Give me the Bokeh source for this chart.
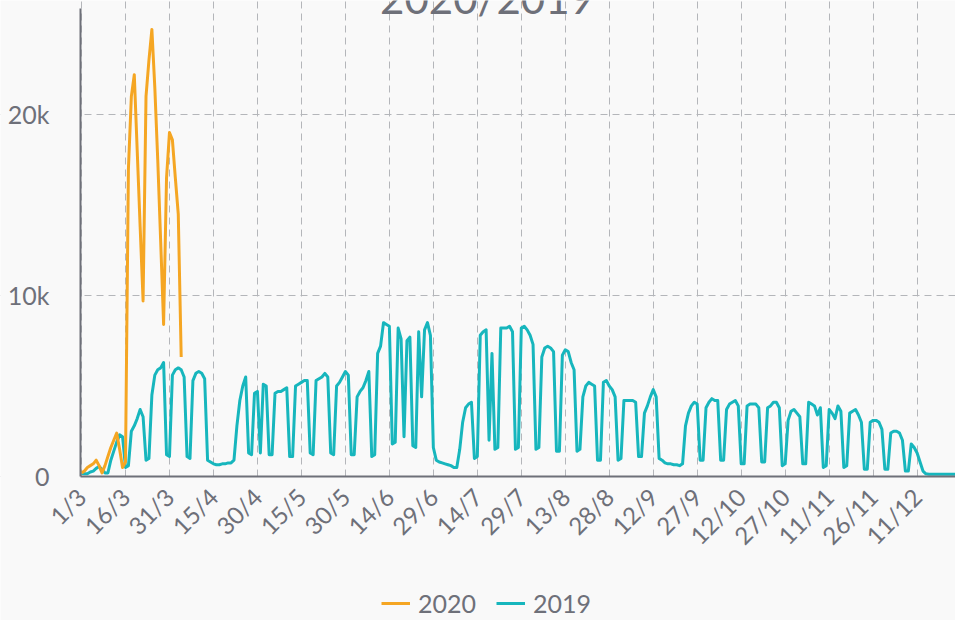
import math
from bokeh.plotting import figure
from bokeh.models import FixedTicker, Range1d, Legend, LegendItem, Label, BoxAnnotation
from bokeh.embed import file_html
from bokeh.resources import INLINE

# ---- data (values in thousands, one value per day starting 1 March) ----
title_text = "2020/2019"
series_names = ["2020", "2019"]

v2020 = [0.2, 0.3, 0.5, 0.6, 0.7, 0.9, 0.6, 0.2, 0.6, 1.1, 1.6, 2.0, 2.4, 1.5,
         0.5, 0.8, 17.0, 21.0, 22.2, 18.0, 13.8, 9.7, 21.0, 23.0, 24.7, 21.5,
         17.5, 13.0, 8.4, 16.5, 19.0, 18.6, 16.5, 14.5, 6.6]

v2019 = [0.17, 0.15, 0.15,
         0.25, 0.3, 0.45, 0.55, 0.4, 0.2, 0.2,
         0.9, 1.4, 1.9, 2.3, 2.2, 0.5, 0.6,
         2.5, 2.8, 3.2, 3.7, 3.3, 0.9, 1.0,
         4.5, 5.6, 5.9, 6.0, 6.3, 1.2, 1.1,
         5.6, 5.9, 6.0, 5.9, 5.5, 1.1, 1.0,
         5.3, 5.7, 5.8, 5.7, 5.4, 0.9, 0.8,
         0.7, 0.65, 0.65, 0.7, 0.7, 0.75, 0.75,
         0.9, 2.8, 4.2, 5.0, 5.5, 1.3, 1.2,
         4.6, 4.7, 1.3, 5.1, 5.0, 1.2, 1.2,
         4.6, 4.7, 4.7, 4.8, 4.9, 1.1, 1.1,
         5.0, 5.1, 5.2, 5.3, 5.3, 1.3, 1.2,
         5.3, 5.4, 5.5, 5.7, 5.5, 1.3, 1.2,
         5.0, 5.2, 5.5, 5.8, 5.6, 1.2, 1.2,
         4.4, 4.7, 4.9, 5.3, 5.8, 1.1, 1.2,
         6.8, 7.2, 8.5, 8.4, 8.3, 1.8, 1.9,
         8.2, 7.6, 2.2, 7.5, 7.7, 1.7, 1.6,
         8.0, 4.4, 8.1, 8.5, 7.8, 1.6, 0.9,
         0.8, 0.75, 0.7, 0.65, 0.6, 0.5, 0.5,
         1.5, 3.0, 3.8, 4.0, 4.1, 1.0, 1.1,
         7.8, 8.0, 8.1, 2.0, 6.8, 1.5, 1.6,
         8.2, 8.2, 8.2, 8.3, 8.0, 1.5, 1.6,
         8.2, 8.3, 8.1, 7.8, 7.3, 1.5, 1.6,
         6.6, 7.1, 7.2, 7.1, 6.9, 1.4, 1.4,
         6.7, 7.0, 6.9, 6.3, 5.9, 1.4, 1.5,
         4.4, 5.0, 5.2, 5.1, 5.0, 0.9, 0.9,
         5.2, 5.3, 5.0, 4.8, 4.4, 0.9, 1.0,
         4.2, 4.2, 4.2, 4.2, 4.1, 1.1, 1.1,
         3.5, 3.9, 4.4, 4.8, 4.4, 1.0, 0.9,
         0.75, 0.7, 0.7, 0.65, 0.65, 0.6, 0.7,
         2.8, 3.5, 3.9, 4.1, 4.0, 0.9, 0.9,
         3.8, 4.1, 4.3, 4.2, 4.2, 0.9, 0.9,
         3.7, 4.0, 4.1, 4.2, 3.9, 0.7, 0.7,
         3.9, 4.0, 4.0, 4.0, 3.8, 0.8, 0.8,
         3.8, 3.9, 4.1, 4.1, 3.8, 0.6, 0.7,
         3.1, 3.6, 3.7, 3.5, 3.3, 0.7, 0.7,
         4.1, 4.0, 3.9, 3.4, 3.8, 0.5, 0.6,
         3.7, 3.5, 3.2, 3.9, 3.6, 0.5, 0.6,
         3.5, 3.6, 3.7, 3.4, 3.0, 0.4, 0.4,
         3.0, 3.1, 3.1, 3.0, 2.6, 0.4, 0.4,
         2.4, 2.5, 2.5, 2.4, 2.0, 0.3, 0.3,
         1.8, 1.6, 1.3, 0.8, 0.3, 0.15, 0.12,
         0.12, 0.12, 0.12, 0.12, 0.12, 0.12, 0.12,
         0.12, 0.12, 0.12, 0.12, 0.12, 0.12, 0.12,
         0.12, 0.12]

tick_days = [0, 15, 30, 45, 60, 75, 90, 105, 120, 135, 150, 165, 180, 195,
             210, 225, 240, 255, 270, 285]
tick_labels = ["1/3", "16/3", "31/3", "15/4", "30/4", "15/5", "30/5", "14/6",
               "29/6", "14/7", "29/7", "13/8", "28/8", "12/9", "27/9", "12/10",
               "27/10", "11/11", "26/11", "11/12"]

y_ticks = [0, 10000, 20000]
y_tick_labels = ["0", "10k", "20k"]

# ---- styling ----
FONT = "Lato"
TXT = "#6e7079"
BG = "#f9f9f9"
C2020 = "#f5a623"
C2019 = "#17b6bd"

days2020 = list(range(len(v2020)))
days2019 = list(range(len(v2019)))
y2020 = [v * 1000 for v in v2020]
y2019 = [v * 1000 for v in v2019]

# the frame fills the whole canvas; axes are drawn at fixed positions inside it
X_LEFT, X_AXIS, X_RIGHT = -27.63, -0.34, 298.09
Y_BOTTOM, Y_AXIS_TOP, Y_TOP = -7956, 25856, 26298

p = figure(width=955, height=620, output_backend="svg", toolbar_location=None,
           x_range=Range1d(X_LEFT, X_RIGHT), y_range=Range1d(Y_BOTTOM, Y_TOP),
           min_border_left=0, min_border_right=0, min_border_top=0,
           min_border_bottom=0)

p.background_fill_color = BG
p.border_fill_color = BG
p.outline_line_color = None

for g in (p.xgrid, p.ygrid):
    g.grid_line_color = "#b4b6ba"
    g.grid_line_dash = "7 5"
    g.grid_line_width = 1

# hide grid lines outside the plotting area (below the x axis / left of the y axis)
p.add_layout(BoxAnnotation(top=0, fill_color=BG, fill_alpha=1, line_color=None,
                           level="underlay"))
p.add_layout(BoxAnnotation(right=X_AXIS, fill_color=BG, fill_alpha=1, line_color=None,
                           level="underlay"))

r19 = p.line(days2019, y2019, line_color=C2019, line_width=3, line_join="round")
r20 = p.line(days2020, y2020, line_color=C2020, line_width=3, line_join="round")

# axes
p.xaxis.fixed_location = 0
p.xaxis.bounds = (X_AXIS, X_RIGHT)
p.xaxis.ticker = FixedTicker(ticks=tick_days)
p.xaxis.major_label_overrides = {d: l for d, l in zip(tick_days, tick_labels)}
p.xaxis.major_label_orientation = math.pi / 4
p.yaxis.fixed_location = X_AXIS
p.yaxis.bounds = (0, Y_AXIS_TOP)
p.yaxis.ticker = FixedTicker(ticks=y_ticks)
p.yaxis.major_label_overrides = {d: l for d, l in zip(y_ticks, y_tick_labels)}

for ax in (p.xaxis, p.yaxis):
    ax.axis_line_color = "#6e7079"
    ax.axis_line_width = 2
    ax.major_tick_line_color = None
    ax.minor_tick_line_color = None
    ax.major_label_text_font = FONT
    ax.major_label_text_color = TXT
p.xaxis.major_label_text_font_size = "24px"
p.yaxis.major_label_text_font_size = "25px"
p.xaxis.major_label_standoff = 10
p.yaxis.major_label_standoff = 25

# title (partially cut at top in the reference)
p.add_layout(Label(x=486.5, y=623, x_units="screen", y_units="screen",
                   text=title_text, text_align="center", text_baseline="alphabetic",
                   text_font=FONT, text_font_size="42px", text_color=TXT))

legend = Legend(items=[LegendItem(label=series_names[0], renderers=[r20]),
                       LegendItem(label=series_names[1], renderers=[r19])],
                orientation="horizontal", location=(381, 2),
                background_fill_alpha=0, border_line_alpha=0,
                label_text_font=FONT, label_text_font_size="25px",
                label_text_color=TXT, glyph_width=29, glyph_height=20,
                label_standoff=8, spacing=20, padding=0, margin=0)
p.add_layout(legend)

open("out.html", "w").write(file_html(p, INLINE))
